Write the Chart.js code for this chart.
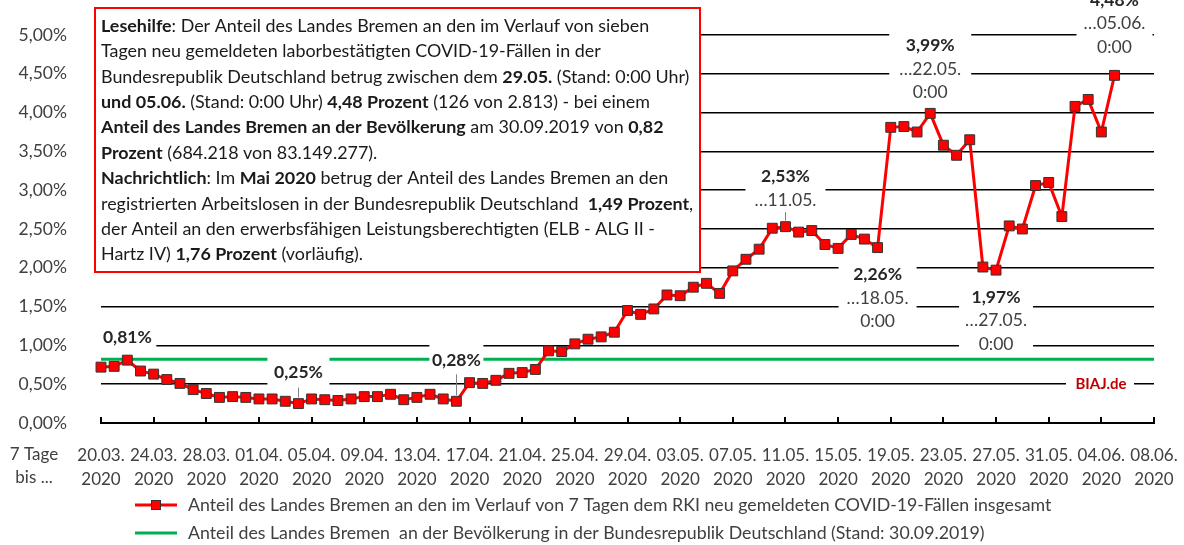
<!DOCTYPE html>
<html>
<head>
<meta charset="utf-8">
<script src="https://cdn.jsdelivr.net/npm/chart.js@4.4.1/dist/chart.umd.min.js"></script>
<style>
  html, body { margin: 0; padding: 0; background: #fff; }
  #wrap { width: 1184px; height: 545px; }
</style>
</head>
<body>
<div id="wrap"><canvas id="chart" width="1184" height="545"></canvas></div>
<script>
// Tage (7-Tage-Zeitraum bis ...)
const tage = [
  '20.03.', '21.03.', '22.03.', '23.03.', '24.03.', '25.03.', '26.03.', '27.03.', '28.03.', '29.03.', '30.03.', '31.03.',
  '01.04.', '02.04.', '03.04.', '04.04.', '05.04.', '06.04.', '07.04.', '08.04.', '09.04.', '10.04.',
  '11.04.', '12.04.', '13.04.', '14.04.', '15.04.', '16.04.', '17.04.', '18.04.', '19.04.', '20.04.',
  '21.04.', '22.04.', '23.04.', '24.04.', '25.04.', '26.04.', '27.04.', '28.04.', '29.04.', '30.04.',
  '01.05.', '02.05.', '03.05.', '04.05.', '05.05.', '06.05.', '07.05.', '08.05.', '09.05.', '10.05.',
  '11.05.', '12.05.', '13.05.', '14.05.', '15.05.', '16.05.', '17.05.', '18.05.', '19.05.', '20.05.',
  '21.05.', '22.05.', '23.05.', '24.05.', '25.05.', '26.05.', '27.05.', '28.05.', '29.05.', '30.05.', '31.05.',
  '01.06.', '02.06.', '03.06.', '04.06.', '05.06.', '06.06.', '07.06.', '08.06.'
];
const jahr = '2020';

// Anteil Bremen an den neu gemeldeten COVID-19-Fällen (in %)
const anteilFaelle = [
  0.72, 0.73, 0.81, 0.67, 0.63, 0.56, 0.51, 0.43, 0.38, 0.33, 0.34, 0.33,
  0.31, 0.31, 0.28, 0.25, 0.31, 0.30, 0.29, 0.31, 0.34, 0.34,
  0.37, 0.30, 0.33, 0.37, 0.31, 0.28, 0.52, 0.51, 0.55, 0.64,
  0.65, 0.69, 0.93, 0.92, 1.02, 1.08, 1.11, 1.17, 1.45, 1.40,
  1.47, 1.65, 1.64, 1.75, 1.80, 1.67, 1.96, 2.11, 2.24, 2.51,
  2.53, 2.46, 2.48, 2.30, 2.25, 2.43, 2.37, 2.26, 3.81, 3.82,
  3.75, 3.99, 3.58, 3.45, 3.65, 2.01, 1.97, 2.54, 2.50, 3.06, 3.10,
  2.66, 4.08, 4.17, 3.75, 4.48
];

// Anteil Bremen an der Bevölkerung (Stand 30.09.2019), Anfang und Ende der Linie
const anteilBevoelkerung = [0.82, 0.82];

const yTickLabels = ['0,00%', '0,50%', '1,00%', '1,50%', '2,00%', '2,50%', '3,00%', '3,50%', '4,00%', '4,50%', '5,00%'];

const legendeFaelle = 'Anteil des Landes Bremen an den im Verlauf von 7 Tagen dem RKI neu gemeldeten COVID-19-Fällen insgesamt';
const legendeBevoelkerung = 'Anteil des Landes Bremen  an der Bevölkerung in der Bundesrepublik Deutschland (Stand: 30.09.2019)';

// Beschriftete Punkte
const labelIndex = [2, 15, 27, 52, 59, 63, 68, 77];
const labelTexte = [
  ['0,81%'],
  ['0,25%'],
  ['0,28%'],
  ['2,53%', '…11.05.'],
  ['2,26%', '…18.05.', '0:00'],
  ['3,99%', '…22.05.', '0:00'],
  ['1,97%', '…27.05.', '0:00'],
  ['4,48%', '…05.06.', '0:00']
];

const lesehilfe = [
  [['Lesehilfe', true], [': Der Anteil des Landes Bremen an den im Verlauf von sieben', false]],
  [['Tagen neu gemeldeten laborbestätigten COVID-19-Fällen in der', false]],
  [['Bundesrepublik Deutschland betrug zwischen dem ', false], ['29.05.', true], [' (Stand: 0:00 Uhr)', false]],
  [['und 05.06.', true], [' (Stand: 0:00 Uhr) ', false], ['4,48 Prozent', true], [' (126 von 2.813) - bei einem', false]],
  [['Anteil des Landes Bremen an der Bevölkerung', true], [' am 30.09.2019 von ', false], ['0,82', true]],
  [['Prozent', true], [' (684.218 von 83.149.277).', false]],
  [['Nachrichtlich', true], [': Im ', false], ['Mai 2020', true], [' betrug der Anteil des Landes Bremen an den', false]],
  [['registrierten Arbeitslosen in der Bundesrepublik Deutschland  ', false], ['1,49 Prozent', true], [',', false]],
  [['der Anteil an den erwerbsfähigen Leistungsberechtigten (ELB - ALG II -', false]],
  [['Hartz IV) ', false], ['1,76 Prozent', true], [' (vorläufig).', false]]
];

const FONT = 'Lato, "Open Sans", sans-serif';
const GRAU = '#404040';

// Layout der Punktbeschriftungen: dy = Mitte erste Zeile relativ zum Punkt
const labelLayout = [
  { dy: -23, w: 58, top: -12, bottom: 13 },
  { dy: -31, w: 62, top: -17, bottom: 15, leader: true },
  { dy: -41, w: 54, top: -17, bottom: 14, leader: true },
  { dy: -50, w: 80, top: -12, bottom: 12, leader: true },
  { dy: 27, w: 78, top: -13, bottom: 12 },
  { dy: -68, w: 82, top: -13, bottom: 12 },
  { dy: 27, w: 74, top: -12, bottom: 12 },
  { dy: -75, w: 76, top: -14, bottom: 12 }
];

const overlayPlugin = {
  id: 'overlay',
  afterDatasetDraw(chart, args) {
    if (args.index !== 1) return;
    const ctx = chart.ctx;
    const pts = chart.getDatasetMeta(0).data;
    ctx.save();

    // Lesehilfe-Kasten
    ctx.fillStyle = '#fff';
    ctx.fillRect(95, 8, 605, 264);
    ctx.strokeStyle = '#ff0000';
    ctx.lineWidth = 2;
    ctx.strokeRect(95, 8, 605, 264);
    ctx.textBaseline = 'middle';
    ctx.textAlign = 'left';
    ctx.fillStyle = '#1a1a1a';
    lesehilfe.forEach((zeile, k) => {
      let x = 101;
      const y = 26 + k * 25.4;
      zeile.forEach(([txt, fett]) => {
        ctx.font = (fett ? 'bold ' : '') + '17.9px ' + FONT;
        ctx.fillText(txt, x, y);
        x += ctx.measureText(txt).width;
      });
    });

    // Punktbeschriftungen
    labelIndex.forEach((idx, n) => {
      const p = pts[idx];
      const lay = labelLayout[n];
      const lines = labelTexte[n];
      const cx = p.x;
      const cy0 = p.y + lay.dy;
      const lh = 23.5;
      const yTop = cy0 + lay.top;
      const yBot = cy0 + (lines.length - 1) * lh + lay.bottom;
      ctx.fillStyle = '#fff';
      ctx.fillRect(cx - lay.w / 2, yTop, lay.w, yBot - yTop);
      ctx.textAlign = 'center';
      lines.forEach((t, j) => {
        ctx.font = (j === 0 ? 'bold ' : '') + '17.5px ' + FONT;
        ctx.fillStyle = j === 0 ? '#262626' : GRAU;
        ctx.fillText(t, cx, cy0 + j * lh);
      });
      if (lay.leader) {
        ctx.strokeStyle = '#7f7f7f';
        ctx.lineWidth = 1;
        ctx.beginPath();
        ctx.moveTo(Math.round(cx) + 0.5, yBot);
        ctx.lineTo(Math.round(cx) + 0.5, p.y - 6);
        ctx.stroke();
      }
    });

    // BIAJ.de
    const yHalb = chart.scales.y.getPixelForValue(0.5);
    ctx.fillStyle = '#fff';
    ctx.fillRect(1066, yHalb - 9, 68, 18);
    ctx.font = 'bold 15px ' + FONT;
    ctx.fillStyle = '#c00000';
    ctx.textAlign = 'center';
    ctx.fillText('BIAJ.de', 1101, yHalb);
    ctx.restore();
  },
  afterDraw(chart) {
    const ctx = chart.ctx;
    const area = chart.chartArea;
    const xs = chart.scales.x;
    ctx.save();
    // x-Achse mit Teilstrichen
    ctx.strokeStyle = '#000';
    ctx.lineWidth = 2;
    ctx.beginPath();
    ctx.moveTo(area.left, area.bottom);
    ctx.lineTo(area.right, area.bottom);
    for (let i = 0; i < tage.length; i += 4) {
      const x = Math.round(xs.getPixelForValue(i));
      ctx.moveTo(x, area.bottom + 1);
      ctx.lineTo(x, area.bottom - 6);
    }
    ctx.stroke();

    ctx.font = '17px ' + FONT;
    ctx.fillStyle = GRAU;
    ctx.textAlign = 'center';
    ctx.textBaseline = 'middle';
    ctx.fillText('7 Tage', 34, 455);
    ctx.fillText('bis ...', 34, 478);

    // Legende
    const ds = chart.data.datasets;
    const eintraege = [[ds[0], 505, true], [ds[1], 533, false]];
    eintraege.forEach(([d, y, marker]) => {
      ctx.strokeStyle = d.borderColor;
      ctx.lineWidth = 3;
      ctx.beginPath();
      ctx.moveTo(135, y);
      ctx.lineTo(177, y);
      ctx.stroke();
      if (marker) {
        ctx.fillStyle = d.pointBackgroundColor;
        ctx.fillRect(151, y - 5, 10, 10);
        ctx.strokeStyle = d.pointBorderColor;
        ctx.lineWidth = 1;
        ctx.strokeRect(151.5, y - 4.5, 9, 9);
      }
      ctx.fillStyle = GRAU;
      ctx.textAlign = 'left';
      ctx.font = '17.75px ' + FONT;
      ctx.fillText(d.label, 188, y);
    });
    ctx.restore();
  }
};

Chart.defaults.font.family = FONT;
Chart.defaults.font.size = 17;
Chart.defaults.color = GRAU;

const ctx = document.getElementById('chart').getContext('2d');
new Chart(ctx, {
  type: 'line',
  data: {
    labels: tage,
    datasets: [
      {
        label: legendeFaelle,
        data: anteilFaelle,
        borderColor: '#ff0000',
        borderWidth: 3,
        tension: 0,
        pointStyle: 'rect',
        pointRadius: 7,
        pointBackgroundColor: '#ff0000',
        pointBorderColor: '#333333',
        pointBorderWidth: 1
      },
      {
        label: legendeBevoelkerung,
        data: [
          { x: tage[0], y: anteilBevoelkerung[0] },
          { x: tage[tage.length - 1], y: anteilBevoelkerung[1] }
        ],
        borderColor: '#00b050',
        borderWidth: 3,
        pointRadius: 0
      }
    ]
  },
  options: {
    responsive: false,
    animation: false,
    layout: { padding: { top: 35, right: 30, bottom: 0, left: 0 } },
    plugins: {
      legend: { display: false },
      tooltip: { enabled: false }
    },
    scales: {
      x: {
        type: 'category',
        offset: false,
        grid: { display: false, drawTicks: false },
        border: { display: false },
        ticks: {
          autoSkip: false,
          maxRotation: 0,
          minRotation: 0,
          padding: 21,
          color: GRAU,
          font: { size: 17, lineHeight: 1.38 },
          callback: function (value, index) {
            return index % 4 === 0 ? [this.getLabelForValue(value), jahr] : '';
          }
        },
        afterFit: s => {
          s.height = 122;
          s.paddingLeft = 0;
          s.paddingRight = 0;
        }
      },
      y: {
        min: 0,
        max: 5,
        grid: {
          drawTicks: false,
          lineWidth: 1.5,
          color: c => (c.tick && c.tick.value === 0 ? 'rgba(0,0,0,0)' : '#000')
        },
        border: { display: false },
        ticks: {
          stepSize: 0.5,
          padding: 34,
          color: GRAU,
          font: { size: 17.5 },
          callback: (v, i) => yTickLabels[i]
        },
        afterFit: s => {
          s.width = 101;
          s.paddingTop = 0;
          s.paddingBottom = 0;
        }
      }
    }
  },
  plugins: [overlayPlugin]
});
</script>
</body>
</html>
